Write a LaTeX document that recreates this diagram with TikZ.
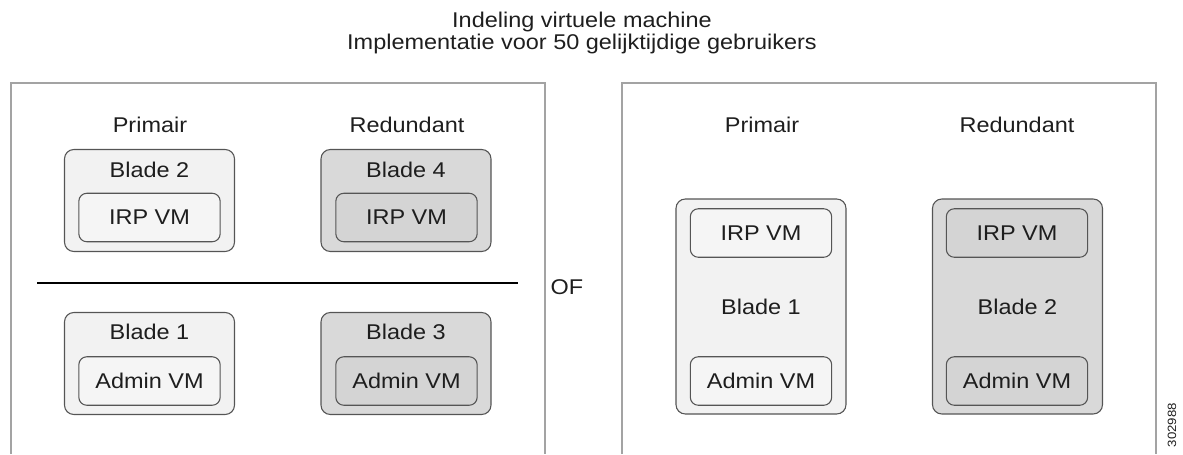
\documentclass[tikz,border=0pt]{standalone}
\usepackage{fontspec}
\setmainfont[FakeStretch=1.1]{Liberation Sans}
\usetikzlibrary{positioning}
\definecolor{primfill}{HTML}{F2F2F2}
\definecolor{primvm}{HTML}{F5F5F5}
\definecolor{redfill}{HTML}{D9D9D9}
\definecolor{redvm}{HTML}{D4D4D4}
\definecolor{boxline}{HTML}{555555}
\definecolor{panelline}{HTML}{A3A3A3}
\definecolor{txt}{HTML}{1E1E1E}
\tikzset{
  label text/.style={font=\fontsize{16}{19}\selectfont,text=txt,inner sep=0pt},
  blade/.style={rectangle,rounded corners=7pt,draw=boxline,line width=0.8pt,
    inner sep=0pt,minimum width=127.5pt,label text},
  short blade/.style={blade,minimum height=76.5pt},
  tall blade/.style={blade,minimum height=161.25pt},
  vm/.style={blade,rounded corners=6pt,minimum width=106pt,minimum height=36.4pt},
  panel/.style={draw=panelline,line width=1.1pt}
}
\begin{document}
\begin{tikzpicture}[x=0.75pt,y=-0.75pt]
  \useasboundingbox (0,0) rectangle (1183,454);
  % titel
  \node [label text,anchor=base] (title1) at (582,27) {Indeling virtuele machine};
  \node [label text,anchor=base] (title2) at (582,49) {Implementatie voor 50 gelijktijdige gebruikers};
  % linker paneel
  \draw [panel] (11,454) -- (11,83) -- (545,83) -- (545,454);
  \node [label text] (lprim) at (150,125) {Primair};
  \node [label text] (lred) at (407,125) {Redundant};
  \node [short blade,fill=primfill] (blade2) at (149.5,200.5) {};
  \node [label text] (blade2txt) at (149.5,170) {Blade 2};
  \node [vm,fill=primvm] (irp2) at (149.5,217.5) {IRP VM};
  \node [short blade,fill=redfill] (blade4) at (406,200.5) {};
  \node [label text] (blade4txt) at (406,170) {Blade 4};
  \node [vm,fill=redvm] (irp4) at (406.5,217.5) {IRP VM};
  \coordinate (divL) at (37,283);
  \coordinate (divR) at (518,283);
  \draw [line width=1.4pt,black] (divL) -- (divR);
  \node [short blade,fill=primfill] (blade1) at (149.5,363.5) {};
  \node [label text] (blade1txt) at (149.5,332) {Blade 1};
  \node [vm,fill=primvm] (admin1) at (149.5,381) {Admin VM};
  \node [short blade,fill=redfill] (blade3) at (406,363.5) {};
  \node [label text] (blade3txt) at (406,332) {Blade 3};
  \node [vm,fill=redvm] (admin3) at (406.5,381) {Admin VM};
  \node [label text] (of) at (567,287) {OF};
  % rechter paneel
  \draw [panel] (622,454) -- (622,83) -- (1156,83) -- (1156,454);
  \node [label text] (rprim) at (762,125) {Primair};
  \node [label text] (rred) at (1017,125) {Redundant};
  \node [tall blade,fill=primfill] (rblade1) at (761,306.5) {Blade 1};
  \node [vm,fill=primvm] (rirp1) at (761,233) {IRP VM};
  \node [vm,fill=primvm] (radmin1) at (761,381) {Admin VM};
  \node [tall blade,fill=redfill] (rblade2) at (1017.5,306.5) {Blade 2};
  \node [vm,fill=redvm] (rirp2) at (1017,233) {IRP VM};
  \node [vm,fill=redvm] (radmin2) at (1017,381) {Admin VM};
  \node [font=\fontsize{9}{10}\selectfont,text=txt,rotate=90,inner sep=0pt] (code) at (1172,425) {302988};
\end{tikzpicture}
\end{document}
